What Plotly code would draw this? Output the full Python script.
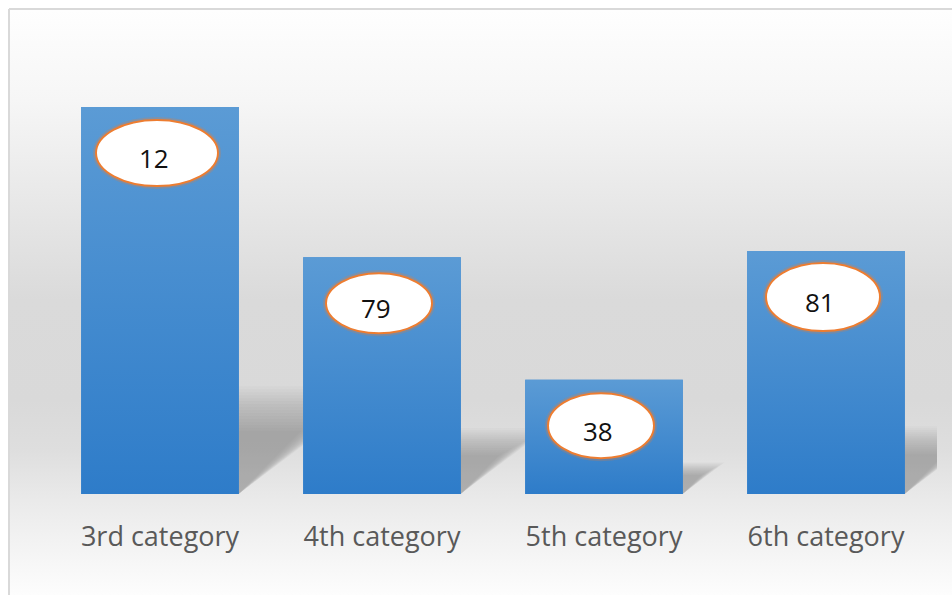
import plotly.graph_objects as go

# ---------------- data ----------------
categories = ["3rd category", "4th category", "5th category", "6th category"]
values = [4.3, 2.63, 1.27, 2.7]          # bar heights
bubble_labels = ["12", "79", "38", "81"]  # numbers shown in the oval callouts

# ---------------- layout / style ----------------
W, H = 952, 595
PLOT_L, PLOT_R = 49, 937
PLOT_T, PLOT_B = 44, 494
Y_MAX = 5
BAR_W = 0.71
ELLIPSE_W = [122, 106, 106, 114]
ELLIPSE_H = [66, 60, 65, 68]
FONT = "Open Sans"

fig = go.Figure()

# chart-area background gradient (decorative, in pixel space of a full-page subplot)
bg_scale = [
    [0.000, "#fefefe"],
    [0.154, "#f6f6f6"],
    [0.325, "#e8e8e8"],
    [0.496, "#dadada"],
    [0.667, "#d9d9d9"],
    [0.752, "#dedede"],
    [0.838, "#eaeaea"],
    [0.923, "#f4f4f4"],
    [1.000, "#fdfdfd"],
]
fig.add_trace(go.Scatter(
    x=[10, W, W, 10, 10], y=[10, 10, H, H, 10],
    mode="lines", line=dict(width=0), fill="toself",
    fillgradient=dict(type="vertical", start=10, stop=H, colorscale=bg_scale),
    hoverinfo="skip", showlegend=False, xaxis="x", yaxis="y",
))

x_idx = list(range(len(categories)))

# bars
fig.add_trace(go.Bar(
    x=x_idx, y=values, width=BAR_W,
    marker=dict(color="#4189d0", line=dict(width=0)),
    xaxis="x2", yaxis="y2", showlegend=False, hoverinfo="skip",
))

# gradient shading of each bar (light at top, darker at bottom)
for i, v in enumerate(values):
    x0, x1 = i - BAR_W / 2, i + BAR_W / 2
    fig.add_trace(go.Scatter(
        x=[x0, x1, x1, x0, x0], y=[0, 0, v, v, 0],
        mode="lines", line=dict(width=0), fill="toself",
        fillgradient=dict(type="vertical", start=0, stop=v,
                          colorscale=[[0, "#2e7cc9"], [1, "#5b9bd5"]]),
        xaxis="x2", yaxis="y2", showlegend=False, hoverinfo="skip",
    ))

shapes = []
# perspective shadows behind bars (soft: many translucent layers)
N_LAYERS = 16
for i, v in enumerate(values):
    x0, x1 = i - BAR_W / 2, i + BAR_W / 2
    h_base = 0.24 * v
    dx_base = 0.12 * v
    for j in range(N_LAYERS):
        t = j / (N_LAYERS - 1)
        h = h_base * (0.68 + 0.48 * t)
        dx = dx_base * (0.55 + 0.70 * t)
        path = (f"M {x0},0 L {x1},0 L {x1 + dx},{h} "
                f"L {x0 + dx},{h} Z")
        shapes.append(dict(
            type="path", path=path, xref="x2", yref="y2",
            fillcolor="rgba(0,0,0,0.014)", line=dict(width=0), layer="below",
        ))

# oval callouts
for i, v in enumerate(values):
    ew, eh = ELLIPSE_W[i], ELLIPSE_H[i]
    # faint glow
    shapes.append(dict(
        type="circle", xref="x2", yref="y2",
        xsizemode="pixel", ysizemode="pixel",
        xanchor=i, yanchor=v,
        x0=-ew / 2 - 4, x1=ew / 2 - 2,
        y0=-46 - eh / 2 - 1, y1=-46 + eh / 2 + 1,
        fillcolor="rgba(0,0,0,0)", line=dict(color="rgba(237,125,49,0.25)", width=4),
        layer="above",
    ))
    shapes.append(dict(
        type="circle", xref="x2", yref="y2",
        xsizemode="pixel", ysizemode="pixel",
        xanchor=i, yanchor=v,
        x0=-ew / 2 - 3, x1=ew / 2 - 3,
        y0=-46 - eh / 2, y1=-46 + eh / 2,
        fillcolor="white", line=dict(color="#ED7D31", width=2),
        layer="above",
    ))

# chart border (top and left visible)
shapes.append(dict(type="line", xref="x", yref="y", x0=9, y0=9, x1=W, y1=9,
                   line=dict(color="#d9d9d9", width=2), layer="above"))
shapes.append(dict(type="line", xref="x", yref="y", x0=9, y0=9, x1=9, y1=H,
                   line=dict(color="#d9d9d9", width=2), layer="above"))

annotations = []
for i, (v, lab) in enumerate(zip(values, bubble_labels)):
    annotations.append(dict(
        x=i, y=v, xref="x2", yref="y2", text=lab, showarrow=False,
        xshift=-6, yshift=-51,
        font=dict(family=FONT, size=26, color="#111111"),
    ))

fig.update_layout(
    width=W, height=H,
    margin=dict(l=0, r=0, t=0, b=0, pad=0),
    paper_bgcolor="white",
    plot_bgcolor="rgba(0,0,0,0)",
    showlegend=False,
    hovermode=False,
    shapes=shapes,
    annotations=annotations,
    xaxis=dict(domain=[0, 1], range=[0, W], visible=False, fixedrange=True),
    yaxis=dict(domain=[0, 1], range=[H, 0], visible=False, fixedrange=True),
    xaxis2=dict(
        domain=[PLOT_L / W, PLOT_R / W], range=[-0.5, len(categories) - 0.5],
        anchor="y2", tickmode="array", tickvals=x_idx, ticktext=categories,
        ticks="outside", ticklen=19, tickcolor="rgba(0,0,0,0)",
        showline=False, showgrid=False, zeroline=False,
        tickfont=dict(family=FONT, size=27, color="#595959"),
        fixedrange=True,
    ),
    yaxis2=dict(
        domain=[(H - PLOT_B) / H, (H - PLOT_T) / H], range=[0, Y_MAX],
        anchor="x2", visible=False, fixedrange=True,
    ),
)

fig.write_html(
    "out.html",
    config={"displayModeBar": False},
    post_script="document.body.style.margin='0';document.body.style.overflow='hidden';",
)
